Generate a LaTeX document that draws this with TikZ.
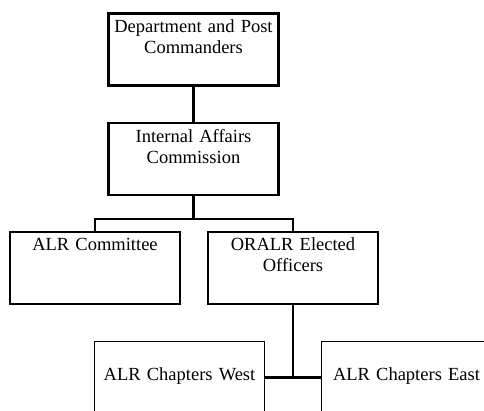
\documentclass[tikz,border=0pt]{standalone}
\usepackage{fontspec}
\setmainfont{Liberation Serif}
\usetikzlibrary{positioning}

\tikzset{
  orgbox/.style={draw, anchor=north, text width=160pt, align=center,
    inner xsep=5pt, inner ysep=4pt, text height=15pt, text depth=49pt,
    font=\fontsize{18.5}{21}\selectfont},
  topbox/.style={orgbox, line width=2.6pt},
  secbox/.style={orgbox, line width=2.2pt},
  midbox/.style={orgbox, line width=1.8pt},
  lowbox/.style={orgbox, line width=1pt, text height=35pt, text depth=29pt},
  conn/.style={line width=2.6pt}
}

\begin{document}
\begin{tikzpicture}[x=1pt,y=-1pt]
	\useasboundingbox (0,0) rectangle (484,411);
	\clip (0,0) rectangle (484,411);
	\node at (193.5,12) (dept) [topbox] {Department and Post\\Commanders};
	\node at (193.5,122) (iac) [secbox] {Internal Affairs\\Commission};
	\node at (95,231) (alrc) [midbox] {ALR Committee};
	\node at (293,231) (oralr) [midbox] {ORALR Elected\\Officers};
	\node at (179.5,341) (west) [lowbox] {ALR Chapters West};
	\node at (406.5,341) (east) [lowbox] {ALR Chapters East};
	\coordinate (bus) at ([yshift=-23pt]iac.south);
	\coordinate (link) at (west.east -| oralr.south);
	\draw[conn] (dept) -- (iac); \draw[conn] (iac.south) -- (bus);
	\draw[conn] (alrc.north) |- (bus) -| (oralr.north); % bus between the two committees
	\draw[conn] (oralr.south) -- (link); \draw[conn] (west.east) -- (east.west);
\end{tikzpicture}
\end{document}
